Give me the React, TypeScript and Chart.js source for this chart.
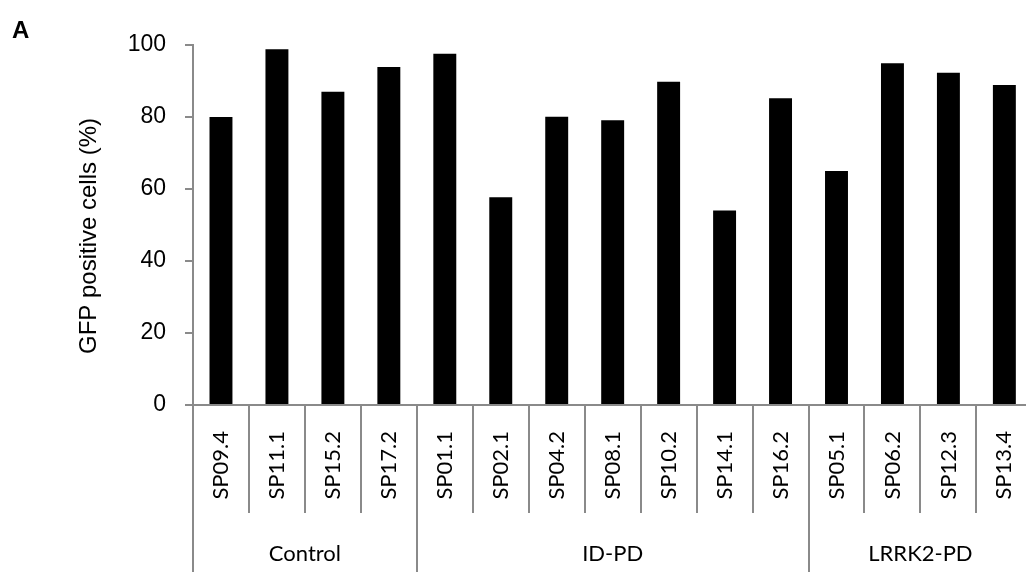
import React, { useEffect, useRef } from "react";
import { Chart, registerables } from "chart.js";

Chart.register(...registerables);

const categories = [
  "SP09.4", "SP11.1", "SP15.2", "SP17.2",
  "SP01.1", "SP02.1", "SP04.2", "SP08.1", "SP10.2", "SP14.1", "SP16.2",
  "SP05.1", "SP06.2", "SP12.3", "SP13.4",
];
const gfpPositive = [80.0, 98.8, 87.0, 93.9, 97.6, 57.7, 80.1, 79.1, 89.8, 54.0, 85.2, 65.0, 94.9, 92.3, 88.9];
const groupLabels = ["Control", "ID-PD", "LRRK2-PD"];
const groupSizes = [4, 7, 4];
const yTicks = [0, 20, 40, 60, 80, 100];
const yTitle = "GFP positive cells (%)";
const panelLabel = "A";

const GRAY = "#8a8a8a";
const CANVAS_W = 1057;
const CANVAS_H = 572;

const overlayPlugin = {
  id: "overlay",
  afterDraw(chart: any) {
    const ctx = chart.ctx;
    const xs = chart.scales.x;
    const area = chart.chartArea;
    const step = xs.getPixelForValue(1) - xs.getPixelForValue(0);
    const edge = (i: number) => xs.getPixelForValue(i) - step / 2;
    const groupEdges = new Set<number>();
    let acc = 0;
    groupEdges.add(0);
    groupSizes.forEach((s) => { acc += s; groupEdges.add(acc); });

    ctx.save();
    ctx.strokeStyle = GRAY;
    ctx.lineWidth = 2;
    for (let i = 0; i <= categories.length; i++) {
      const px = Math.round(edge(i));
      ctx.beginPath();
      ctx.moveTo(px, area.bottom);
      ctx.lineTo(px, groupEdges.has(i) ? chart.height : area.bottom + 108);
      ctx.stroke();
    }

    // group labels
    ctx.fillStyle = "#000";
    ctx.font = "22px Lato";
    ctx.textAlign = "center";
    ctx.textBaseline = "middle";
    let start = 0;
    groupLabels.forEach((lab, gi) => {
      const end = start + groupSizes[gi];
      const cx = (edge(start) + edge(end)) / 2;
      ctx.fillText(lab, cx, 554);
      start = end;
    });

    // y title
    ctx.save();
    ctx.translate(89, 236);
    ctx.rotate(-Math.PI / 2);
    ctx.font = "24px 'Liberation Sans'";
    ctx.textAlign = "center";
    ctx.textBaseline = "middle";
    ctx.fillText(yTitle, 0, 0);
    ctx.restore();

    // panel label
    ctx.font = "bold 24px 'Liberation Sans'";
    ctx.textAlign = "left";
    ctx.textBaseline = "alphabetic";
    ctx.fillText(panelLabel, 12, 38);
    ctx.restore();
  },
};

export default function App() {
  const ref = useRef<HTMLCanvasElement | null>(null);

  useEffect(() => {
    if (!ref.current) return;
    const chart = new Chart(ref.current, {
      type: "bar",
      data: {
        labels: categories,
        datasets: [
          {
            data: gfpPositive,
            backgroundColor: "#000",
            borderWidth: 0,
            categoryPercentage: 1,
            barPercentage: 0.41,
          },
        ],
      },
      options: {
        responsive: false,
        animation: false,
        devicePixelRatio: 1,
        layout: { padding: { top: 45, right: 7, bottom: 0, left: 0 } },
        plugins: {
          legend: { display: false },
          tooltip: { enabled: false },
        },
        scales: {
          x: {
            grid: { display: false, drawTicks: false },
            border: { display: true, color: GRAY, width: 2 },
            ticks: {
              autoSkip: false,
              minRotation: 90,
              maxRotation: 90,
              padding: 26,
              color: "#000",
              font: { family: "Lato", size: 22 },
            },
            afterFit: (scale: any) => { scale.height = 167; },
          },
          y: {
            min: 0,
            max: 100,
            afterBuildTicks: (scale: any) => {
              scale.ticks = yTicks.map((v) => ({ value: v }));
            },
            grid: {
              display: true,
              drawOnChartArea: false,
              drawTicks: true,
              tickLength: 8,
              color: GRAY,
              lineWidth: 2,
            },
            border: { display: true, color: GRAY, width: 2 },
            ticks: {
              padding: 19,
              color: "#000",
              font: { family: "'Liberation Sans'", size: 23 },
            },
            afterFit: (scale: any) => { scale.width = 193; },
          },
        },
      },
      plugins: [overlayPlugin],
    });
    return () => chart.destroy();
  }, []);

  return (
    <div style={{ position: "fixed", left: 0, top: 0, width: 1026, height: 572, overflow: "hidden", background: "#fff" }}>
      <canvas ref={ref} width={CANVAS_W} height={CANVAS_H} style={{ display: "block" }} />
    </div>
  );
}
